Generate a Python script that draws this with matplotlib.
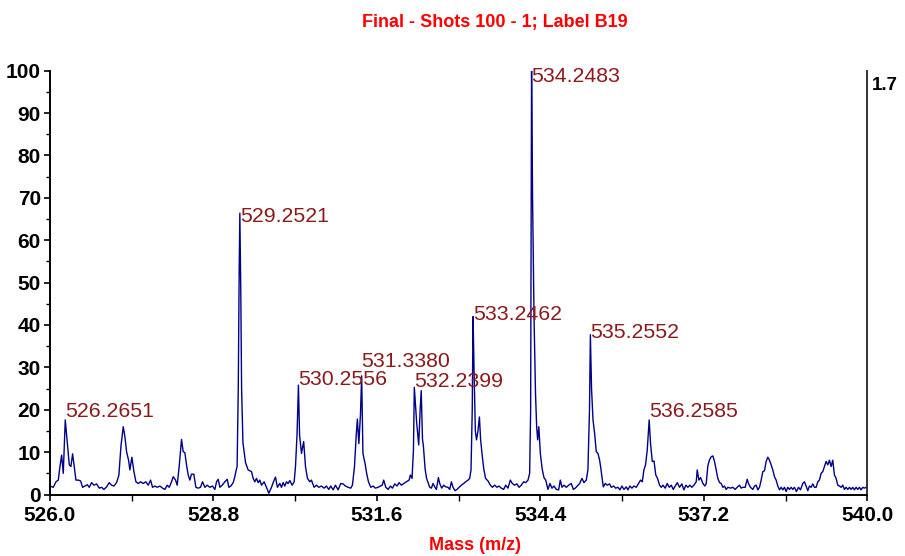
import matplotlib
matplotlib.use('Agg')
import numpy as np
import matplotlib.pyplot as plt
from matplotlib.ticker import FixedLocator, FormatStrFormatter

plt.rcParams['font.family'] = ['Liberation Sans', 'DejaVu Sans']

# spectrum trace (m/z, relative intensity %)
mass = [
    526.000, 526.057, 526.103, 526.143, 526.171, 526.200, 526.228, 526.262, 526.297, 526.331,
    526.359, 526.388, 526.416, 526.445, 526.485, 526.525, 526.559, 526.599, 526.639, 526.673,
    526.713, 526.753, 526.799, 526.844, 526.884, 526.924, 526.970, 527.015, 527.055, 527.095,
    527.141, 527.181, 527.215, 527.255, 527.284, 527.312, 527.346, 527.369, 527.403, 527.438,
    527.472, 527.512, 527.552, 527.597, 527.643, 527.683, 527.723, 527.757, 527.797, 527.837,
    527.882, 527.928, 527.968, 528.008, 528.042, 528.082, 528.111, 528.151, 528.179, 528.213,
    528.253, 528.282, 528.310, 528.339, 528.367, 528.396, 528.424, 528.464, 528.499, 528.539,
    528.578, 528.613, 528.653, 528.693, 528.738, 528.784, 528.824, 528.853, 528.881, 528.910,
    528.950, 528.995, 529.035, 529.064, 529.098, 529.138, 529.166, 529.190, 529.205, 529.225,
    529.240, 529.252, 529.268, 529.282, 529.305, 529.350, 529.394, 529.423, 529.452, 529.480,
    529.509, 529.537, 529.566, 529.594, 529.623, 529.668, 529.708, 529.748, 529.794, 529.828,
    529.862, 529.896, 529.936, 529.965, 529.993, 530.022, 530.050, 530.079, 530.108, 530.147,
    530.182, 530.205, 530.232, 530.255, 530.275, 530.308, 530.345, 530.376, 530.410, 530.450,
    530.478, 530.524, 530.564, 530.604, 530.649, 530.695, 530.735, 530.775, 530.809, 530.849,
    530.889, 530.935, 530.980, 531.020, 531.060, 531.106, 531.151, 531.180, 531.215, 531.245,
    531.265, 531.290, 531.318, 531.338, 531.360, 531.395, 531.430, 531.455, 531.494, 531.534,
    531.573, 531.619, 531.659, 531.690, 531.716, 531.751, 531.791, 531.831, 531.865, 531.905,
    531.945, 531.979, 532.019, 532.059, 532.104, 532.150, 532.173, 532.201, 532.225, 532.240,
    532.280, 532.315, 532.340, 532.358, 532.380, 532.395, 532.425, 532.450, 532.475, 532.504,
    532.532, 532.561, 532.589, 532.618, 532.652, 532.675, 532.709, 532.743, 532.778, 532.817,
    532.846, 532.875, 532.903, 532.937, 532.971, 533.006, 533.046, 533.085, 533.120, 533.160,
    533.188, 533.211, 533.232, 533.246, 533.262, 533.285, 533.305, 533.330, 533.355, 533.375,
    533.405, 533.430, 533.460, 533.502, 533.542, 533.576, 533.616, 533.656, 533.691, 533.730,
    533.770, 533.804, 533.844, 533.884, 533.918, 533.958, 533.998, 534.033, 534.072, 534.112,
    534.147, 534.187, 534.215, 534.232, 534.243, 534.248, 534.265, 534.290, 534.315, 534.335,
    534.352, 534.372, 534.398, 534.430, 534.460, 534.490, 534.529, 534.563, 534.597, 534.632,
    534.672, 534.712, 534.740, 534.769, 534.803, 534.843, 534.883, 534.928, 534.963, 534.997,
    535.031, 535.071, 535.111, 535.145, 535.185, 535.213, 535.240, 535.255, 535.275, 535.300,
    535.328, 535.356, 535.385, 535.413, 535.430, 535.453, 535.476, 535.510, 535.544, 535.584,
    535.613, 535.653, 535.687, 535.727, 535.761, 535.795, 535.830, 535.869, 535.898, 535.932,
    535.966, 536.001, 536.041, 536.081, 536.115, 536.144, 536.172, 536.200, 536.229, 536.248,
    536.262, 536.285, 536.315, 536.345, 536.375, 536.405, 536.440, 536.469, 536.497, 536.537,
    536.571, 536.606, 536.640, 536.674, 536.708, 536.743, 536.782, 536.822, 536.856, 536.891,
    536.925, 536.959, 536.993, 537.028, 537.068, 537.085, 537.113, 537.142, 537.182, 537.215,
    537.239, 537.267, 537.296, 537.324, 537.353, 537.381, 537.410, 537.438, 537.467, 537.495,
    537.524, 537.552, 537.581, 537.609, 537.655, 537.695, 537.735, 537.769, 537.809, 537.838,
    537.866, 537.906, 537.940, 537.963, 537.997, 538.037, 538.066, 538.094, 538.123, 538.151,
    538.180, 538.208, 538.237, 538.265, 538.294, 538.322, 538.351, 538.379, 538.408, 538.436,
    538.465, 538.494, 538.522, 538.551, 538.579, 538.608, 538.636, 538.665, 538.693, 538.722,
    538.750, 538.784, 538.819, 538.853, 538.893, 538.921, 538.950, 538.978, 539.007, 539.035,
    539.064, 539.092, 539.121, 539.150, 539.178, 539.207, 539.235, 539.264, 539.292, 539.321,
    539.349, 539.378, 539.406, 539.435, 539.463, 539.492, 539.520, 539.549, 539.577, 539.606,
    539.634, 539.663, 539.692, 539.720, 539.749, 539.777, 539.806, 539.834, 539.863, 539.891,
    539.920, 539.948, 539.977, 540.000,
]
intensity = [
    2.0, 1.7, 3.0, 3.4, 6.6, 9.3, 5.0, 17.6, 12.1, 7.0,
    6.6, 9.6, 6.6, 3.4, 3.4, 3.2, 1.7, 2.0, 2.3, 1.7,
    2.8, 2.2, 2.5, 1.5, 1.7, 1.2, 1.8, 2.8, 2.2, 2.0,
    2.8, 4.6, 11.3, 16.0, 13.6, 10.1, 8.1, 5.8, 8.8, 5.4,
    3.0, 2.6, 3.0, 2.6, 3.0, 2.2, 3.4, 1.7, 2.0, 1.7,
    2.0, 1.5, 1.2, 2.2, 1.7, 3.0, 4.2, 3.4, 2.2, 6.6,
    13.0, 10.1, 9.9, 7.0, 4.6, 3.4, 4.8, 4.8, 1.7, 1.5,
    1.7, 3.0, 1.7, 2.2, 1.7, 2.0, 1.2, 3.0, 3.6, 1.7,
    2.2, 3.0, 3.6, 1.7, 2.0, 2.8, 4.2, 5.8, 6.6, 25.0,
    52.0, 66.4, 48.0, 25.0, 12.2, 7.5, 5.8, 5.6, 5.4, 3.8,
    3.0, 3.8, 2.8, 3.4, 2.2, 3.0, 1.7, 0.3, 1.7, 3.0,
    4.1, 1.7, 2.6, 1.7, 2.8, 2.0, 3.0, 2.6, 3.3, 2.2,
    3.0, 6.6, 14.4, 25.8, 14.0, 9.7, 12.5, 6.6, 3.8, 3.0,
    3.4, 1.7, 2.2, 1.7, 2.0, 1.5, 2.0, 1.2, 2.0, 1.1,
    2.2, 1.1, 2.6, 2.5, 2.0, 1.7, 1.5, 2.2, 6.5, 14.0,
    17.8, 12.0, 19.0, 28.0, 9.7, 7.4, 4.5, 3.0, 1.7, 2.0,
    1.5, 1.7, 2.0, 2.2, 3.4, 1.7, 1.2, 2.0, 1.5, 2.5,
    2.0, 2.8, 2.2, 2.6, 3.0, 3.4, 4.6, 3.8, 10.5, 25.3,
    17.0, 11.7, 20.0, 24.5, 13.0, 11.5, 6.0, 3.8, 2.8, 1.7,
    1.5, 2.6, 1.8, 1.2, 4.0, 2.6, 1.5, 2.2, 1.8, 1.7,
    1.2, 3.0, 1.7, 0.9, 1.2, 1.7, 2.2, 2.6, 3.0, 3.4,
    3.8, 5.8, 20.0, 42.0, 30.0, 15.0, 12.9, 15.0, 18.3, 13.0,
    8.9, 6.0, 3.8, 3.2, 2.2, 1.7, 2.2, 1.7, 2.0, 1.5,
    1.2, 2.2, 1.5, 3.4, 2.6, 2.2, 2.5, 1.7, 2.2, 3.0,
    2.8, 3.4, 5.0, 20.0, 70.0, 100.0, 70.0, 42.0, 24.0, 16.0,
    12.9, 16.0, 9.7, 6.0, 4.0, 3.4, 1.2, 2.6, 1.5, 2.0,
    1.2, 1.1, 3.4, 1.7, 2.2, 1.7, 2.2, 2.6, 1.2, 1.5,
    2.0, 2.6, 3.8, 2.8, 3.4, 5.8, 20.0, 37.7, 25.0, 17.6,
    14.4, 10.1, 9.7, 8.1, 6.6, 4.2, 1.8, 2.6, 2.2, 2.5,
    1.7, 2.0, 1.5, 1.7, 1.1, 2.0, 1.2, 1.8, 1.1, 2.0,
    1.5, 2.0, 1.7, 2.6, 3.4, 3.0, 5.8, 7.0, 10.5, 14.4,
    17.6, 12.1, 7.8, 7.9, 4.6, 3.8, 2.2, 1.7, 2.2, 1.5,
    2.6, 1.7, 2.2, 1.2, 2.0, 2.8, 1.7, 2.5, 1.1, 2.2,
    1.7, 2.2, 1.7, 2.2, 3.0, 5.8, 3.4, 4.0, 2.6, 2.0,
    2.6, 6.8, 8.2, 8.9, 9.1, 7.8, 5.8, 3.8, 2.8, 2.6,
    1.7, 2.0, 1.2, 1.7, 1.5, 1.7, 1.2, 1.7, 2.2, 1.5,
    1.7, 1.7, 3.6, 2.6, 1.7, 1.2, 2.0, 2.2, 1.1, 1.7,
    3.4, 5.4, 5.6, 7.8, 8.8, 8.1, 7.0, 5.8, 4.2, 3.4,
    2.0, 1.1, 1.7, 1.1, 1.7, 0.7, 1.7, 1.2, 1.7, 1.2,
    1.7, 0.7, 1.7, 1.1, 2.6, 3.0, 2.0, 0.9, 2.0, 1.7,
    2.5, 1.7, 1.7, 3.0, 3.4, 5.0, 5.4, 6.6, 7.8, 7.0,
    8.1, 6.6, 8.1, 4.6, 3.8, 2.2, 2.0, 1.7, 2.2, 1.2,
    1.7, 1.2, 1.7, 1.2, 1.7, 1.1, 1.7, 1.2, 1.7, 1.1,
    1.7, 1.5, 1.7, 1.7,
]

# labelled peaks
peak_labels = ['526.2651', '529.2521', '530.2556', '531.3380', '532.2399',
               '533.2462', '534.2483', '535.2552', '536.2585']
peak_mass = [526.2651, 529.2521, 530.2556, 531.3380, 532.2399,
             533.2462, 534.2483, 535.2552, 536.2585]
peak_height = [17.6, 66.4, 25.8, 28.0, 25.3, 42.0, 100.0, 37.7, 17.6]

x_major = [526.0, 528.8, 531.6, 534.4, 537.2, 540.0]

fig = plt.figure(figsize=(9.05, 5.56), dpi=100)
ax = fig.add_axes([0.0552, 0.1106, 0.9033, 0.7622])

ax.plot(mass, intensity, color='#00008b', lw=1.0)

# label baseline shift relative to peak top (data units)
label_shift = [0.7, -2.1, 0.0, 2.1, 0.1, -0.8, -2.7, -0.8, 0.7]
for lab, m, h, dy in zip(peak_labels, peak_mass, peak_height, label_shift):
    ax.text(m, h + dy, lab, color='#8b1a1a', fontsize=15.3,
            ha='left', va='baseline', clip_on=False)

ax.set_xlim(526.0, 540.0)
ax.set_ylim(0, 100)
ax.xaxis.set_major_locator(FixedLocator(x_major))
ax.xaxis.set_minor_locator(FixedLocator(np.array(x_major[:-1]) + 1.4))
ax.xaxis.set_major_formatter(FormatStrFormatter('%.1f'))
ax.set_yticks(np.arange(0, 101, 10))
ax.set_yticks(np.arange(5, 100, 10), minor=True)

ax.tick_params(axis='both', which='major', direction='out', length=4.5, width=1.2,
               labelsize=15, pad=2)
ax.tick_params(axis='both', which='minor', direction='out', length=3, width=1.0)
ax.tick_params(axis='x', which='both', length=4.5, pad=3.5)
for t in ax.get_xticklabels() + ax.get_yticklabels():
    t.set_fontweight('bold')

ax.spines['top'].set_visible(False)
for s in ['left', 'bottom']:
    ax.spines[s].set_linewidth(1.4)
    ax.spines[s].set_color('black')
ax.spines['right'].set_linewidth(1.4)
ax.spines['right'].set_color('#333333')

ax.text(1.006, 0.985, '1.7', transform=ax.transAxes, ha='left', va='top',
        fontsize=13.5, fontweight='bold')

fig.text(0.547, 0.960, 'Final - Shots 100 - 1; Label B19', color='#ff0000',
         fontsize=13, fontweight='bold', ha='center', va='center')
fig.text(0.525, 0.018, 'Mass (m/z)', color='#ff0000',
         fontsize=13, fontweight='bold', ha='center', va='center')

fig.savefig('out.png', dpi=100)
